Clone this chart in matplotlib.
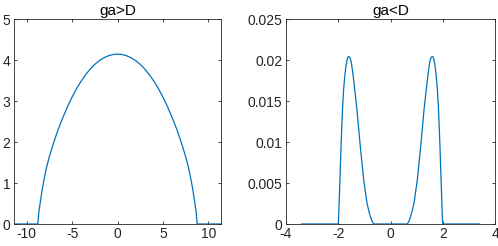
import matplotlib
matplotlib.use('Agg')
import matplotlib.pyplot as plt

plt.rcParams['font.family'] = ['Liberation Sans', 'DejaVu Sans']
plt.rcParams['axes.unicode_minus'] = False

# ga>D : wide single dome
x_wide = [-11.4, -8.78, -8.65, -8.5, -8.3, -8.1, -7.8, -7.5, -7.0, -6.5, -6.0, -5.5,
          -5.0, -4.5, -4.0, -3.5, -3.0, -2.5, -2.0, -1.5, -1.0, -0.5, 0.0,
          0.5, 1.0, 1.5, 2.0, 2.5, 3.0, 3.5, 4.0, 4.5, 5.0, 5.5, 6.0, 6.5,
          7.0, 7.5, 7.8, 8.1, 8.3, 8.5, 8.65, 8.78, 11.4]
y_wide = [0.0, 0.0, 0.32, 0.54, 0.83, 1.08, 1.40, 1.65, 2.01, 2.33, 2.61, 2.87,
          3.10, 3.31, 3.49, 3.65, 3.785, 3.90, 3.99, 4.06, 4.11, 4.14, 4.15,
          4.14, 4.11, 4.06, 3.99, 3.90, 3.785, 3.65, 3.49, 3.31, 3.10, 2.87, 2.61, 2.33,
          2.01, 1.65, 1.40, 1.08, 0.83, 0.54, 0.32, 0.0, 0.0]

# ga<D : two narrow bumps
x_two = [-3.4, -2.0, -1.99, -1.977, -1.962, -1.945, -1.923, -1.89, -1.859, -1.83, -1.795,
         -1.75, -1.70, -1.667, -1.63, -1.59, -1.55, -1.51, -1.47, -1.41, -1.35, -1.282,
         -1.22, -1.154, -1.09, -1.026, -0.96, -0.897, -0.83, -0.769, -0.70, -0.641,
         0.641, 0.70, 0.769, 0.83, 0.897, 0.96, 1.026, 1.09, 1.154, 1.22, 1.282,
         1.35, 1.41, 1.47, 1.51, 1.55, 1.59, 1.63, 1.667, 1.70, 1.75, 1.795,
         1.83, 1.859, 1.89, 1.923, 1.945, 1.962, 1.977, 1.99, 2.0, 3.4]
y_two = [0.0, 0.0, 0.0005, 0.0016, 0.0029, 0.0045, 0.0066, 0.0098, 0.0123, 0.0145, 0.0164,
         0.0181, 0.0194, 0.0200, 0.0204, 0.02045, 0.0203, 0.0199, 0.0191, 0.0176, 0.0159, 0.0139,
         0.0117, 0.0094, 0.0074, 0.0054, 0.0039, 0.0025, 0.0016, 0.0009, 0.0003, 0.0,
         0.0, 0.0003, 0.0009, 0.0016, 0.0025, 0.0039, 0.0054, 0.0074, 0.0094, 0.0117, 0.0139,
         0.0159, 0.0176, 0.0191, 0.0199, 0.0203, 0.02045, 0.0204, 0.0200, 0.0194, 0.0181, 0.0164,
         0.0145, 0.0123, 0.0098, 0.0066, 0.0045, 0.0029, 0.0016, 0.0005, 0.0, 0.0]

line_color = '#0072BD'
ax_color = '#262626'

fig = plt.figure(figsize=(4.98, 2.46), dpi=100)
W, H = 498, 246
ax1 = fig.add_axes([14 / W, 22 / H, 207 / W, 204.7 / H])
ax2 = fig.add_axes([286 / W, 22 / H, 209 / W, 204.7 / H])


def style(ax):
    for s in ax.spines.values():
        s.set_color(ax_color)
        s.set_linewidth(0.6)
    ax.tick_params(direction='in', length=2.5, width=0.6, color=ax_color,
                   labelcolor=ax_color, labelsize=10, top=True, right=True, pad=2.5)


ax1.plot(x_wide, y_wide, color=line_color, lw=0.9)
ax1.set_xlim(-11.4, 11.4)
ax1.set_ylim(0, 5)
ax1.set_xticks([-10, -5, 0, 5, 10])
ax1.set_yticks([0, 1, 2, 3, 4, 5])
ax1.set_title('ga>D', fontsize=11, color='black', pad=3)
style(ax1)

ax2.plot(x_two, y_two, color=line_color, lw=0.9)
ax2.set_xlim(-4, 4)
ax2.set_ylim(0, 0.025)
ax2.set_xticks([-4, -2, 0, 2, 4])
ax2.set_yticks([0, 0.005, 0.01, 0.015, 0.02, 0.025])
ax2.set_yticklabels(['0', '0.005', '0.01', '0.015', '0.02', '0.025'])
ax2.set_title('ga<D', fontsize=11, color='black', pad=3)
style(ax2)

fig.savefig('out.png', dpi=100)
